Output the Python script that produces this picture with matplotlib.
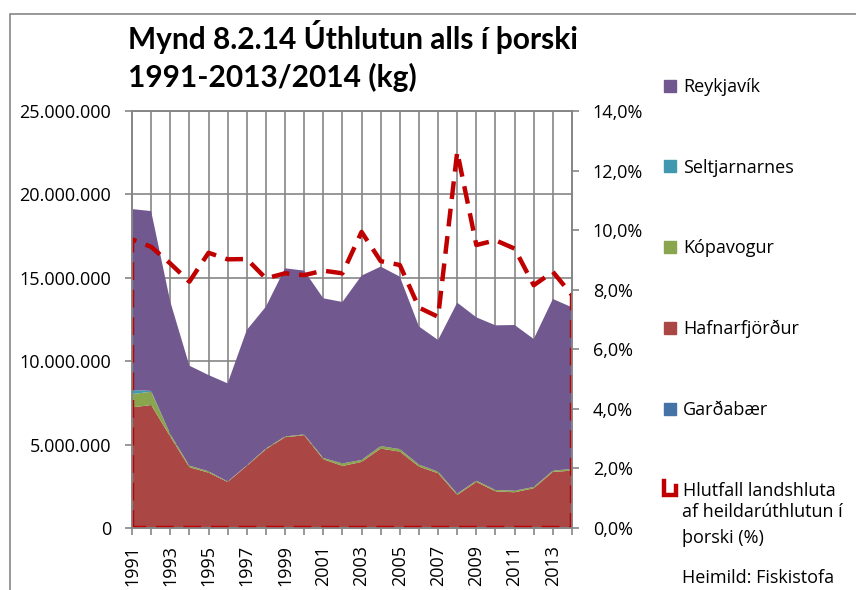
import numpy as np
import matplotlib.pyplot as plt
from matplotlib.patches import Patch, Rectangle
from matplotlib.lines import Line2D
from matplotlib.legend_handler import HandlerBase
from matplotlib.ticker import FuncFormatter, MultipleLocator

plt.rcParams['font.family'] = ['Open Sans', 'DejaVu Sans']

# Cod quota (kg) per municipality, 1991-2014
years = list(range(1991, 2015))
gardabaer = [0, 0, 0, 0, 0, 0, 0, 0, 0, 0, 0, 0, 0, 20000, 40000, 10000,
             0, 0, 0, 0, 0, 0, 0, 0]
hafnarfjordur = [7230000, 7370000, 5480000, 3640000, 3320000, 2760000, 3720000, 4720000,
                 5440000, 5560000, 4120000, 3720000, 3960000, 4740000, 4540000, 3670000,
                 3280000, 1980000, 2760000, 2200000, 2140000, 2380000, 3360000, 3440000]
kopavogur = [800000, 800000, 150000, 100000, 80000, 30000, 30000, 50000,
             50000, 50000, 80000, 150000, 120000, 150000, 150000, 120000,
             100000, 80000, 80000, 80000, 100000, 80000, 80000, 100000]
seltjarnarnes = [240000, 50000, 0, 0, 0, 0, 0, 0, 0, 0, 0, 0,
                 0, 0, 0, 0, 0, 0, 0, 0, 0, 0, 0, 0]
reykjavik = [10850000, 10780000, 7940000, 5990000, 5770000, 5880000, 8120000, 8500000,
             10080000, 9820000, 9570000, 9680000, 11050000, 10760000, 10340000, 8280000,
             7890000, 11450000, 9790000, 9870000, 9930000, 8870000, 10290000, 9690000]
# share of the national cod allocation (%)
hlutfall = [9.69, 9.44, 8.88, 8.27, 9.24, 9.02, 9.03, 8.38, 8.55, 8.49, 8.64, 8.55,
            9.94, 8.96, 8.83, 7.40, 7.09, 12.63, 9.50, 9.66, 9.38, 8.15, 8.60, 7.82]

series_names = ['Garðabær', 'Hafnarfjörður', 'Kópavogur', 'Seltjarnarnes', 'Reykjavík']
series_colors = ['#4572A7', '#AA4643', '#89A54E', '#4198AF', '#71588F']
line_label = ['Hlutfall landshluta', 'af heildarúthlutun í', 'þorski (%)']
title = 'Mynd 8.2.14 Úthlutun alls í þorski\n1991-2013/2014 (kg)'

GRID = '#868686'
RED = '#C00000'


class HandlerU(HandlerBase):
    # small "U" shaped key for the outlined area series
    def create_artists(self, legend, orig_handle, xdescent, ydescent,
                       width, height, fontsize, trans):
        x0, x1 = -xdescent, -xdescent + width
        y0, y1 = -ydescent, -ydescent + height
        ln = Line2D([x0, x0, x1, x1], [y1 + 2, y0, y0, y1 - 2], color=RED,
                    lw=3.2, solid_joinstyle='miter', transform=trans)
        return [ln]


fig = plt.figure(figsize=(8.56, 5.90), dpi=100)
ax = fig.add_axes([132 / 856, 62 / 590, 440 / 856, 417 / 590])

ax.stackplot(years, gardabaer, hafnarfjordur, kopavogur, seltjarnarnes, reykjavik,
             colors=series_colors, linewidth=0)

ax.set_xlim(1991, 2014)
ax.set_ylim(0, 25000000)
ax.yaxis.set_major_locator(MultipleLocator(5000000))
ax.yaxis.set_major_formatter(FuncFormatter(lambda v, p: f'{int(v):,}'.replace(',', '.')))
ax.set_xticks(years)
ax.set_xticklabels([str(y) if y % 2 == 1 else '' for y in years], rotation=90)
ax.set_axisbelow(True)
ax.grid(True, color=GRID, lw=1.2)
for s in ax.spines.values():
    s.set_color(GRID)
    s.set_linewidth(1.2)
ax.tick_params(axis='both', colors=GRID, length=5, width=1.2, labelcolor='black',
               labelsize=13)
ax.tick_params(axis='y', pad=10)
ax.tick_params(axis='x', pad=7)

# percentage drawn as an outlined area on the right axis
ax2 = ax.twinx()
ax2.set_ylim(0, 14)
ax2.yaxis.set_major_locator(MultipleLocator(2))
ax2.yaxis.set_major_formatter(FuncFormatter(lambda v, p: f'{v:.1f}%'.replace('.', ',')))
px = [years[0]] + years + [years[-1], years[0]]
py = [0] + hlutfall + [0, 0]
line, = ax2.plot(px, py, color=RED, lw=3.2, dashes=(4, 2.2), dash_capstyle='butt')
for s in ax2.spines.values():
    s.set_color(GRID)
    s.set_linewidth(1.2)
ax2.tick_params(axis='y', colors=GRID, length=5, width=1.2, labelcolor='black',
                labelsize=13, pad=10)

handles = [Patch(color=series_colors[i]) for i in [4, 3, 2, 1, 0]]
labels = [series_names[i] for i in [4, 3, 2, 1, 0]]
handles.append(line)
labels.append(line_label[0])
fig.legend(handles, labels, loc='upper left', bbox_to_anchor=(664 / 856, 1 - 78 / 590),
           frameon=False, fontsize=13, labelspacing=3.47, handlelength=0.65,
           handleheight=0.65, handletextpad=0.4, borderpad=0, borderaxespad=0,
           handler_map={Line2D: HandlerU()})
for i, txt in enumerate(line_label[1:]):
    fig.text(682 / 856, 1 - (512 + 26 * i) / 590, txt, fontsize=13, va='center')
fig.text(682 / 856, 1 - 578 / 590, 'Heimild: Fiskistofa', fontsize=13, va='center')

fig.text(128 / 856, 1 - 20 / 590, title, fontsize=21.5, fontweight='bold',
         family=['Lato', 'DejaVu Sans'], va='top', linespacing=1.37)

# chart frame
fig.add_artist(Rectangle((10 / 856, -0.5), 2, 0.5 + 1 - 14 / 590, transform=fig.transFigure,
                         fill=False, edgecolor=GRID, lw=1.2))

fig.savefig('out.png', dpi=100)
